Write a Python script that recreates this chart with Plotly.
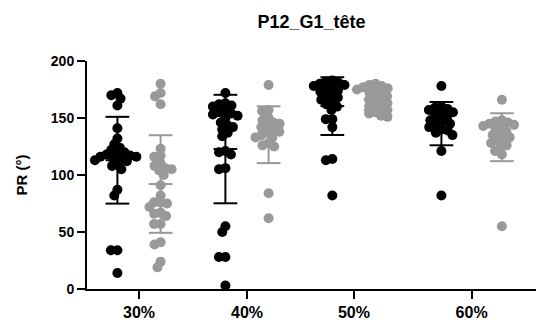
import numpy as np
import plotly.graph_objects as go

TITLE = "P12_G1_tête"
Y_TITLE = "PR (°)"
CATEGORIES = ["30%", "40%", "50%", "60%"]
Y_TICKS = [0, 50, 100, 150, 200]

# série noire (1re colonne de chaque groupe)
BLACK_30 = [172, 170, 167, 161, 141, 132, 127, 124,
            122, 120, 119, 118, 117, 116, 116, 115, 114, 113, 112, 110, 108, 105,
            87, 82, 34, 34, 14]
BLACK_40 = [172, 163, 162, 161, 160, 156, 155, 154, 153, 152, 150,
            146, 144, 142, 140, 137, 134, 121, 120, 118, 106, 105,
            55, 50, 28, 28, 3]
BLACK_50 = [183, 182, 181, 180, 179, 178, 177, 176, 174, 173, 171, 170,
            168, 166, 164, 162, 160, 157, 149, 149, 142, 114, 113, 82]
BLACK_60 = [178, 160, 159, 158, 157, 155, 153, 152, 150, 148, 146, 145,
            144, 142, 140, 139, 137, 135, 121, 82]

# série grise (2e colonne)
GRAY_30 = [180, 172, 169, 162, 123, 117, 116, 110, 108, 106, 105, 104, 100,
           91, 82, 76, 76, 75, 72, 67, 66, 64, 57, 57, 41, 39, 24, 19]
GRAY_40 = [179, 157, 156, 150, 148, 146, 145, 143, 142, 140, 138, 137, 135,
           133, 133, 128, 126, 125, 84, 62]
GRAY_50 = [180, 179, 178, 177, 176, 175, 174, 172, 171, 169, 167, 166,
           164, 163, 161, 160, 158, 157, 155, 154, 152, 151]
GRAY_60 = [166, 148, 147, 146, 145, 144, 143, 142, 140, 138, 136, 135,
           133, 131, 130, 128, 126, 124, 121, 118, 55]

BLACK = [BLACK_30, BLACK_40, BLACK_50, BLACK_60]
GRAY = [GRAY_30, GRAY_40, GRAY_50, GRAY_60]

# mise en page (axe x numérique, 1 unité ~ 108 px)
GROUP_POS = [0, 1, 1.99, 3.08]
HALF_GAP = [0.2, 0.2, 0.2, 0.28]
PX_X = 108.0
PX_Y = 1.14
DOT = 10
CAP = 0.11

W, H = 536, 320
ML, MT, MB = 87, 61, 31
X_RANGE = [-(ML - 35) / PX_X, (W - ML) / PX_X - (ML - 35) / PX_X]


def swarm(values, d=6.5):
    """décalages x (en unités d'axe) façon beeswarm"""
    ys = np.asarray(values, dtype=float) * PX_Y
    order = np.argsort(-ys)
    placed = []
    xs = np.zeros(len(ys))
    for i in order:
        y = ys[i]
        iv = []
        for xj, yj in placed:
            dy = abs(y - yj)
            if dy < d:
                w = np.sqrt(d * d - dy * dy)
                iv.append((xj - w, xj + w))
        cands = [0.0] + [a for a, b in iv] + [b for a, b in iv]
        cands.sort(key=lambda c: (abs(c), c))
        best = 0.0
        for c in cands:
            if all(not (a + 1e-6 < c < b - 1e-6) for a, b in iv):
                best = c
                break
        xs[i] = best
        placed.append((best, y))
    return xs / PX_X


def add_column(fig, vals, center, color):
    off = swarm(vals)
    fig.add_trace(go.Scatter(
        x=center + off, y=vals, mode="markers",
        marker=dict(size=DOT, color=color, line=dict(width=0)),
        cliponaxis=False, showlegend=False, hoverinfo="y",
    ))
    m = float(np.mean(vals))
    s = float(np.std(vals, ddof=1))
    ex = [center, center, None,
          center - CAP, center + CAP, None,
          center - CAP, center + CAP, None,
          center - CAP, center + CAP]
    ey = [m - s, m + s, None,
          m + s, m + s, None,
          m - s, m - s, None,
          m, m]
    fig.add_trace(go.Scatter(
        x=ex, y=ey, mode="lines", line=dict(color=color, width=2),
        cliponaxis=False, showlegend=False, hoverinfo="skip",
    ))


fig = go.Figure()
for k in range(len(CATEGORIES)):
    add_column(fig, BLACK[k], GROUP_POS[k] - HALF_GAP[k], "#000000")
    add_column(fig, GRAY[k], GROUP_POS[k] + HALF_GAP[k], "#999999")

FONT = "Liberation Sans, Arial, sans-serif"
fig.update_layout(
    width=W, height=H,
    margin=dict(l=ML, r=0, t=MT, b=MB),
    paper_bgcolor="white", plot_bgcolor="white",
    title=dict(text=TITLE, x=0.5, xref="paper", xanchor="center",
               y=1 - 22 / H, yanchor="middle",
               font=dict(family=FONT, size=18, color="black", weight="bold")),
    xaxis=dict(
        range=X_RANGE, tickvals=GROUP_POS, ticktext=CATEGORIES,
        showgrid=False, zeroline=False, showline=True, linewidth=2,
        linecolor="black", ticks="outside", ticklen=8, tickwidth=2,
        tickcolor="black",
        tickfont=dict(family=FONT, size=16, color="black", weight="bold"),
    ),
    yaxis=dict(
        range=[0, 200], tickvals=Y_TICKS,
        showgrid=False, zeroline=False, showline=True, linewidth=2,
        linecolor="black", ticks="outside", ticklen=8, tickwidth=2,
        tickcolor="black",
        tickfont=dict(family=FONT, size=14, color="black", weight="bold"),
        title=dict(text=Y_TITLE, standoff=20,
                   font=dict(family=FONT, size=15, color="black", weight="bold")),
    ),
)

fig.write_html("out.html", config={"displayModeBar": False},
               post_script="document.body.style.margin='0';")
